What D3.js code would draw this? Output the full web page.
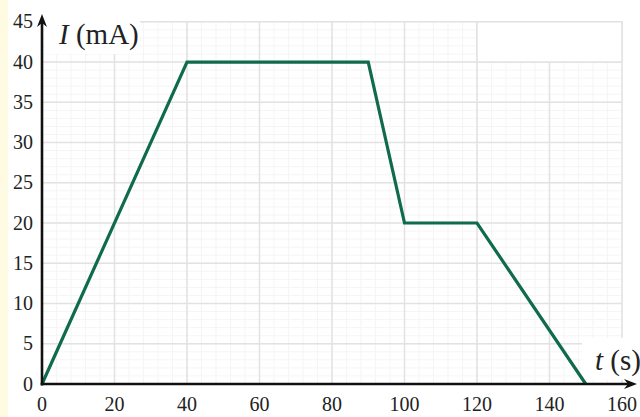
<!DOCTYPE html>
<html>
<head>
<meta charset="utf-8">
<script src="https://cdn.jsdelivr.net/npm/d3@7"></script>
<style>
  html, body { margin: 0; padding: 0; background: #fff; }
  svg { display: block; }
</style>
</head>
<body>
<svg id="chart" width="640" height="417"></svg>
<script>
// Data
const times = [0, 40, 90, 100, 120, 150];
const currents = [0, 40, 40, 20, 20, 0];
const xTicks = [0, 20, 40, 60, 80, 100, 120, 140, 160];
const yTicks = [0, 5, 10, 15, 20, 25, 30, 35, 40, 45];

const width = 640;
const height = 417;
const serif = '"Liberation Serif", "Times New Roman"';

const x = d3.scaleLinear().domain([0, 160]).range([42, 622]);
const y = d3.scaleLinear().domain([0, 45]).range([384, 21.8]);

const svg = d3.select("#chart");

// left cream strip
svg.append("rect")
  .attr("x", 0).attr("y", 0)
  .attr("width", 8).attr("height", height)
  .attr("fill", "#fffbe2");

// Minor grid
const grid = svg.append("g");
grid.selectAll(".vminor")
  .data(d3.range(0, 161, 4))
  .enter().append("line")
  .attr("x1", d => x(d)).attr("x2", d => x(d))
  .attr("y1", y(0)).attr("y2", y(45))
  .attr("stroke", "#f5f5f5").attr("stroke-width", 1);

grid.selectAll(".hminor")
  .data(d3.range(0, 46, 1))
  .enter().append("line")
  .attr("x1", x(0)).attr("x2", x(160))
  .attr("y1", d => y(d)).attr("y2", d => y(d))
  .attr("stroke", "#f5f5f5").attr("stroke-width", 1);

// Major grid
grid.selectAll(".vmajor")
  .data(xTicks.slice(1))
  .enter().append("line")
  .attr("x1", d => x(d)).attr("x2", d => x(d))
  .attr("y1", y(0)).attr("y2", y(45))
  .attr("stroke", "#e2e2e2").attr("stroke-width", 1.5);

grid.selectAll(".hmajor")
  .data(yTicks.slice(1))
  .enter().append("line")
  .attr("x1", x(0)).attr("x2", x(160))
  .attr("y1", d => y(d)).attr("y2", d => y(d))
  .attr("stroke", "#e2e2e2").attr("stroke-width", 1.5);

// blank corner box top right
svg.append("rect")
  .attr("x", x(120)).attr("y", y(45))
  .attr("width", x(160) - x(120)).attr("height", y(40) - y(45))
  .attr("fill", "#fff")
  .attr("stroke", "#e2e2e2").attr("stroke-width", 1.5);

// white patches behind axis titles
svg.append("rect")
  .attr("x", 45).attr("y", 12)
  .attr("width", 95).attr("height", 42)
  .attr("fill", "#fff");
svg.append("rect")
  .attr("x", 582).attr("y", 338)
  .attr("width", 58).attr("height", 42)
  .attr("fill", "#fff");

// Line
const line = d3.line()
  .x((d, i) => x(times[i]))
  .y(d => y(d));

svg.append("path")
  .datum(currents)
  .attr("d", line)
  .attr("fill", "none")
  .attr("stroke", "#0f6b4c")
  .attr("stroke-width", 3.2)
  .attr("stroke-linejoin", "miter");

// Axes
const axisColor = "#111";
svg.append("line")
  .attr("x1", x(0)).attr("x2", x(0))
  .attr("y1", y(0) + 1.5).attr("y2", 22)
  .attr("stroke", axisColor).attr("stroke-width", 2.6);
svg.append("path")
  .attr("d", `M${x(0)},14 L${x(0) - 5},27 L${x(0)},23 L${x(0) + 5},27 Z`)
  .attr("fill", axisColor);

svg.append("line")
  .attr("x1", x(0) - 1.3).attr("x2", 628)
  .attr("y1", y(0)).attr("y2", y(0))
  .attr("stroke", axisColor).attr("stroke-width", 2.6);
svg.append("path")
  .attr("d", `M637,${y(0)} L624,${y(0) - 5} L628,${y(0)} L624,${y(0) + 5} Z`)
  .attr("fill", axisColor);

// Tick labels
svg.append("g")
  .selectAll("text")
  .data(yTicks)
  .enter().append("text")
  .attr("x", 33)
  .attr("y", d => y(d))
  .attr("dy", "0.33em")
  .attr("text-anchor", "end")
  .attr("font-size", 20)
  .style("font-family", serif)
  .attr("fill", "#222")
  .text(d => d);

svg.append("g")
  .selectAll("text")
  .data(xTicks)
  .enter().append("text")
  .attr("x", d => x(d))
  .attr("y", 411)
  .attr("text-anchor", "middle")
  .attr("font-size", 20)
  .style("font-family", serif)
  .attr("fill", "#222")
  .text(d => d);

// Axis titles
const yTitle = svg.append("text")
  .attr("x", 59).attr("y", 44)
  .attr("font-size", 29)
  .style("font-family", serif)
  .attr("fill", "#222");
yTitle.append("tspan").attr("font-style", "italic").text("I");
yTitle.append("tspan").text(" (mA)");

const xTitle = svg.append("text")
  .attr("x", 595).attr("y", 370)
  .attr("font-size", 29)
  .style("font-family", serif)
  .attr("fill", "#222");
xTitle.append("tspan").attr("font-style", "italic").text("t");
xTitle.append("tspan").text(" (s)");
</script>
</body>
</html>
